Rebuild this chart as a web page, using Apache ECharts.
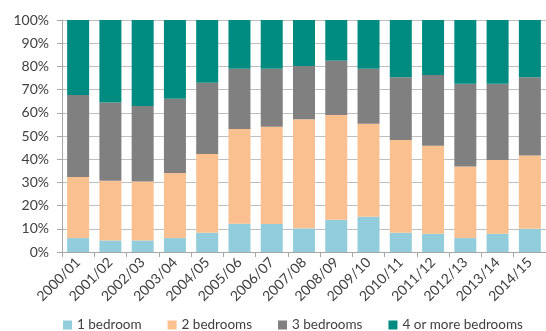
<!DOCTYPE html>
<html>
<head>
<meta charset="utf-8">
<script src="https://cdn.jsdelivr.net/npm/echarts@6/dist/echarts.min.js"></script>
<style>
  html, body { margin: 0; padding: 0; background: #fff; }
  #chart { width: 546px; height: 331px; }
</style>
</head>
<body>
<div id="chart"></div>
<script>
// Share of homes by number of bedrooms, per year (percent)
const years = ['2000/01','2001/02','2002/03','2003/04','2004/05','2005/06','2006/07','2007/08',
               '2008/09','2009/10','2010/11','2011/12','2012/13','2013/14','2014/15'];
const oneBed   = [6.0, 5.0, 5.0, 6.0, 8.3, 12.2, 12.1, 10.2, 13.9, 15.2, 8.3, 7.9, 6.0, 7.9, 10.0];
const twoBed   = [26.3, 25.7, 25.4, 28.0, 33.9, 40.8, 41.9, 47.0, 45.1, 40.1, 40.0, 37.9, 30.9, 31.8, 31.6];
const threeBed = [35.4, 33.7, 32.5, 32.1, 30.8, 26.0, 25.0, 23.0, 23.5, 23.7, 27.0, 30.5, 35.6, 32.8, 33.7];
const fourPlus = [32.3, 35.6, 37.1, 33.9, 27.0, 21.0, 21.0, 19.8, 17.5, 21.0, 24.7, 23.7, 27.5, 27.5, 24.7];
const seriesNames = ['1 bedroom', '2 bedrooms', '3 bedrooms', '4 or more bedrooms'];
const colors = ['#92CDDC', '#FAC090', '#808080', '#008B80'];

const font = 'Lato, "Open Sans", sans-serif';
const chart = echarts.init(document.getElementById('chart'));

const mk = (name, data, color) => ({
  name, type: 'bar', stack: 'total', data,
  barWidth: 22,
  itemStyle: { color },
  emphasis: { disabled: true }
});

chart.setOption({
  animation: false,
  color: colors,
  grid: { left: 62, right: -14, top: 20, bottom: 79 },
  legend: {
    data: seriesNames,
    top: 313, left: 58,
    icon: 'rect', itemWidth: 9, itemHeight: 9, itemGap: 26, itemTextGap: 5,
    textStyle: { fontFamily: font, fontSize: 13.5, color: '#404040' }
  },
  xAxis: {
    type: 'category', data: years,
    axisLine: { lineStyle: { color: '#A6A6A6' } },
    axisTick: { show: true, lineStyle: { color: '#A6A6A6' } },
    axisLabel: { rotate: 45, fontFamily: font, fontSize: 14, color: '#404040', margin: 8, interval: 0 }
  },
  yAxis: {
    type: 'value', min: 0, max: 100, interval: 10,
    axisLine: { show: true, lineStyle: { color: '#A6A6A6' } },
    axisTick: { show: true, lineStyle: { color: '#A6A6A6' } },
    splitLine: { lineStyle: { color: '#BFBFBF' } },
    axisLabel: { formatter: '{value}%', fontFamily: font, fontSize: 14, color: '#404040', margin: 13 }
  },
  series: [
    mk(seriesNames[0], oneBed, colors[0]),
    mk(seriesNames[1], twoBed, colors[1]),
    mk(seriesNames[2], threeBed, colors[2]),
    mk(seriesNames[3], fourPlus, colors[3])
  ]
});
</script>
</body>
</html>
